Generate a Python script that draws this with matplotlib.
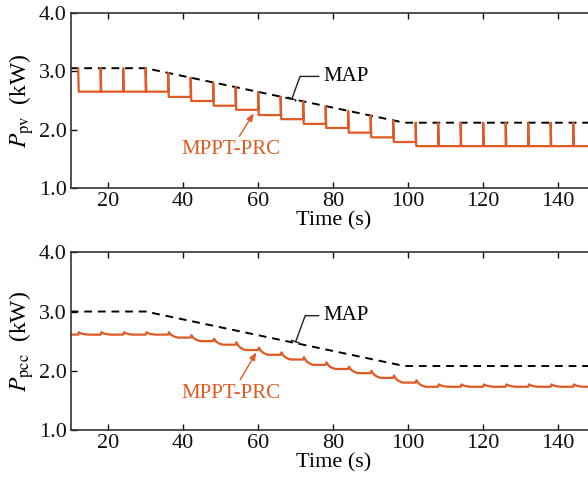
import numpy as np
import matplotlib
matplotlib.use('Agg')
import matplotlib.pyplot as plt

plt.rcParams['font.family'] = ['Liberation Serif', 'DejaVu Serif']
plt.rcParams['mathtext.fontset'] = 'stix'

ORANGE = '#DF5A24'

# MAP (maximum available power) breakpoints, kW
map_t = [10, 30, 99, 150]
map_pv = [3.05, 3.05, 2.12, 2.12]
map_pcc = [3.00, 3.00, 2.08, 2.08]

# perturbation instants (s)
event_t = [12, 18, 24, 30, 36, 42, 48, 54, 60, 66, 72, 78, 84, 90, 96, 102,
           108, 114, 120, 126, 132, 138, 144]
# P_pv level after each perturbation
pv_level = [2.65, 2.65, 2.65, 2.65, 2.56, 2.49, 2.41, 2.34, 2.25, 2.18, 2.10,
            2.03, 1.95, 1.87, 1.79, 1.72, 1.72, 1.72, 1.72, 1.72, 1.72, 1.72, 1.72]
# P_pcc level after each perturbation
pcc_start = 2.61
pcc_level = [2.61, 2.61, 2.61, 2.61, 2.56, 2.50, 2.44, 2.35, 2.27, 2.19, 2.10,
             2.03, 1.96, 1.88, 1.80, 1.73, 1.73, 1.73, 1.73, 1.73, 1.73, 1.73, 1.73]
# small overshoot seen in P_pcc at each perturbation
bump_dt = [0.0, 0.2, 0.8, 1.6, 2.6]
bump_w = [None, 1.0, 0.5, 0.2, 0.0]
bump_h = 0.04
t_end = 150


def map_at(t, vals):
    return np.interp(t, map_t, vals)


# P_pv: narrow spikes up to MAP then back down to the new level
pv_t, pv_v = [], []
for i, t in enumerate(event_t):
    prev = pv_level[i - 1] if i > 0 else map_at(t, map_pv)
    pv_t += [t, t, t + 0.15]
    pv_v += [prev, map_at(t, map_pv), pv_level[i]]
pv_t.append(t_end)
pv_v.append(pv_level[-1])

# P_pcc: small bump, then decay to the new level
pcc_t, pcc_v = [10], [pcc_start]
for i, t in enumerate(event_t):
    prev = pcc_level[i - 1] if i > 0 else pcc_start
    peak = prev + bump_h
    for dt, w in zip(bump_dt, bump_w):
        pcc_t.append(t + dt)
        pcc_v.append(prev if w is None else pcc_level[i] + w * (peak - pcc_level[i]))
pcc_t.append(t_end)
pcc_v.append(pcc_level[-1])

fig = plt.figure(figsize=(5.88, 4.86), dpi=100)
ax1 = fig.add_axes([0.1202, 0.6125, 0.8929, 0.3617])
ax2 = fig.add_axes([0.1202, 0.1152, 0.8929, 0.3657])

panels = [
    (ax1, map_pv, pv_t, pv_v, r'$P_{\mathrm{pv}}$  (kW)',
     (69, 2.53), 2.91, (58.8, 2.28), (55.0, 1.89), 1.67),
    (ax2, map_pcc, pcc_t, pcc_v, r'$P_{\mathrm{pcc}}$  (kW)',
     (70, 2.49), 2.93, (59.5, 2.31), (55.2, 1.85), 1.61),
]

for ax, mp, tt, vv, ylab, map_tip, map_y, prc_tip, prc_tail, prc_y in panels:
    ax.plot(map_t, mp, color='black', lw=1.4, ls=(0, (4, 3)))
    ax.plot(tt, vv, color=ORANGE, lw=1.6)
    ax.set_xlim(10, 150)
    ax.set_ylim(1.0, 4.0)
    ax.set_xticks([20, 40, 60, 80, 100, 120, 140])
    ax.set_yticks([1.0, 2.0, 3.0, 4.0])
    ax.set_yticklabels(['1.0', '2.0', '3.0', '4.0'])
    ax.tick_params(direction='in', top=True, right=False, length=4, width=1,
                   labelsize=16, colors='#111111', pad=3)
    for s in ax.spines.values():
        s.set_linewidth(1.2)
        s.set_color('#333333')
    ax.set_xlabel('Time (s)', fontsize=16, labelpad=0)
    ax.set_ylabel(ylab, fontsize=17, labelpad=2)

    ax.annotate('MAP', xy=map_tip, xytext=(77.3, map_y), fontsize=15,
                va='center', ha='left',
                arrowprops=dict(arrowstyle='-[, widthB=0.2, lengthB=0.05',
                                connectionstyle='angle,angleA=0,angleB=70,rad=0',
                                color='#222222', lw=1.0, shrinkA=1, shrinkB=0))
    ax.annotate('', xy=prc_tip, xytext=prc_tail,
                arrowprops=dict(arrowstyle='-|>, head_length=0.45, head_width=0.18',
                                color=ORANGE, lw=1.0, shrinkA=0, shrinkB=0))
    ax.text(52.6, prc_y, 'MPPT-PRC', fontsize=15, color=ORANGE,
            ha='center', va='center')

fig.savefig('out.png', dpi=100)
